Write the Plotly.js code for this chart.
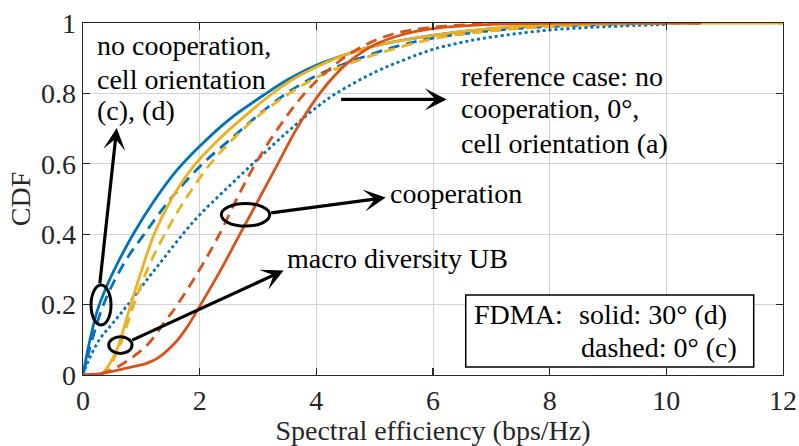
<!DOCTYPE html>
<html>
<head>
<meta charset="utf-8">
<script src="https://cdn.plot.ly/plotly-3.0.1.min.js"></script>
<style>
  html, body { margin: 0; padding: 0; background: #ffffff; }
  #chart { width: 799px; height: 446px; }
</style>
</head>
<body>
<div id="chart"></div>
<script>
// CDF of spectral efficiency (bps/Hz) for several cell / cooperation set-ups.

// No cooperation, 30° (d) — blue solid
const xBlueSolid = [0, 0.05, 0.12, 0.24, 0.4, 0.6, 0.86, 1.2, 1.6, 2.0, 2.5, 3.14, 3.5, 4.0, 4.5, 5.0, 6.0, 7.0, 8.0, 9.0, 10.0];
const yBlueSolid = [0, 0.045, 0.1, 0.18, 0.25, 0.32, 0.4, 0.49, 0.58, 0.65, 0.725, 0.8, 0.838, 0.88, 0.91, 0.935, 0.965, 0.983, 0.993, 0.998, 1.0];

// No cooperation, 0° (c) — blue dashed
const xBlueDashed = [0, 0.1, 0.2, 0.34, 0.5, 0.75, 1.05, 1.5, 2.05, 2.6, 3.0, 3.49, 4.0, 4.5, 5.3, 6.0, 7.0, 8.0, 9.0, 10.0];
const yBlueDashed = [0, 0.065, 0.125, 0.195, 0.255, 0.33, 0.4, 0.5, 0.6, 0.68, 0.738, 0.8, 0.85, 0.885, 0.93, 0.957, 0.978, 0.99, 0.996, 1.0];

// Reference case: no cooperation, 0°, cell orientation (a) — blue dotted
const xReference = [0, 0.05, 0.28, 0.5, 0.77, 1.14, 1.4, 1.71, 2.0, 2.4, 2.91, 3.5, 4.0, 4.34, 5.0, 5.5, 6.0, 6.5, 7.0, 8.0, 9.0, 10.0];
const yReference = [0, 0.024, 0.1, 0.145, 0.2, 0.28, 0.335, 0.4, 0.455, 0.52, 0.6, 0.69, 0.76, 0.8, 0.86, 0.895, 0.925, 0.945, 0.96, 0.98, 0.99, 0.996];

// Macro diversity upper bound, 30° — yellow solid
const xMacroSolid = [0, 0.3, 0.45, 0.6, 0.72, 0.82, 1.0, 1.22, 1.5, 1.88, 2.3, 2.75, 3.25, 3.6, 4.0, 4.5, 5.0, 6.0, 7.0, 8.0, 9.0, 10.0, 12.0];
const yMacroSolid = [0, 0, 0.03, 0.08, 0.145, 0.2, 0.295, 0.4, 0.495, 0.59, 0.665, 0.732, 0.8, 0.84, 0.875, 0.91, 0.935, 0.965, 0.985, 0.995, 0.999, 1.0, 1.0];

// Macro diversity upper bound, 0° — yellow dashed
const xMacroDashed = [0, 0.3, 0.45, 0.6, 0.72, 0.85, 1.0, 1.2, 1.42, 1.7, 2.17, 2.6, 3.0, 3.51, 4.0, 4.5, 5.0, 6.0, 7.0, 8.0, 9.0, 10.0, 12.0];
const yMacroDashed = [0, 0, 0.025, 0.07, 0.125, 0.19, 0.258, 0.335, 0.405, 0.485, 0.597, 0.675, 0.735, 0.797, 0.845, 0.88, 0.91, 0.955, 0.978, 0.99, 0.997, 1.0, 1.0];

// Cooperation, 30° — orange solid
const xCoopSolid = [0, 0.3, 0.6, 0.9, 1.09, 1.3, 1.6, 1.8, 2.0, 2.35, 2.69, 3.0, 3.34, 3.7, 4.06, 4.3, 4.6, 5.0, 5.5, 6.0, 7.0, 8.0, 10.6];
const yCoopSolid = [0, 0.004, 0.014, 0.025, 0.033, 0.05, 0.095, 0.14, 0.195, 0.295, 0.4, 0.495, 0.6, 0.71, 0.8, 0.848, 0.895, 0.938, 0.968, 0.984, 0.996, 1.0, 1.0];

// Cooperation, 0° — orange dashed
const xCoopDashed = [0, 0.3, 0.5, 0.8, 1.1, 1.4, 1.62, 2.0, 2.34, 2.65, 2.94, 3.3, 3.8, 4.34, 4.75, 5.3, 6.0, 7.0, 8.0, 10.6];
const yCoopDashed = [0, 0.004, 0.015, 0.045, 0.085, 0.15, 0.2, 0.3, 0.4, 0.505, 0.595, 0.69, 0.8, 0.885, 0.93, 0.968, 0.988, 0.998, 1.0, 1.0];

const xTicks = [0, 2, 4, 6, 8, 10, 12];
const yTicks = [0, 0.2, 0.4, 0.6, 0.8, 1];

const BLUE = '#0072BD', ORANGE = '#D95319', YELLOW = '#EDB120';
const FONT = "'Liberation Serif', 'Times New Roman', serif";
const INK = '#262626';
const LW = 2.8;
const DASH = '11px,7px';
const DOT = '3px,3px';

function curve(x, y, color, dash) {
  return {
    x: x, y: y, type: 'scatter', mode: 'lines',
    line: { color: color, width: LW, dash: dash, shape: 'spline', smoothing: 1 },
    hoverinfo: 'skip', showlegend: false
  };
}

const traces = [
  curve(xBlueSolid, yBlueSolid, BLUE, 'solid'),
  curve(xBlueDashed, yBlueDashed, BLUE, DASH),
  curve(xReference, yReference, BLUE, DOT),
  curve(xMacroSolid, yMacroSolid, YELLOW, 'solid'),
  curve(xMacroDashed, yMacroDashed, YELLOW, DASH),
  curve(xCoopSolid, yCoopSolid, ORANGE, 'solid'),
  curve(xCoopDashed, yCoopDashed, ORANGE, DASH)
];

function label(text, x, y) {
  return { text: text, x: x, y: y, xref: 'x', yref: 'y', xanchor: 'left', yanchor: 'middle',
           showarrow: false, font: { family: FONT, size: 28, color: '#000' } };
}
function arrow(tailX, tailY, headX, headY) {
  return { text: '', x: headX, y: headY, ax: tailX, ay: tailY, xref: 'x', yref: 'y',
           axref: 'x', ayref: 'y', showarrow: true, arrowhead: 3, arrowsize: 1.15,
           arrowwidth: 3.2, arrowcolor: '#000', standoff: 0, startstandoff: 0 };
}
function ring(cx, cy, rx, ry) {
  return { type: 'circle', xref: 'x', yref: 'y', x0: cx - rx, x1: cx + rx, y0: cy - ry, y1: cy + ry,
           line: { color: '#000', width: 3 }, layer: 'above' };
}

const annotations = [
  label('no cooperation,', 0.2, 0.935),
  label('cell orientation', 0.2, 0.839),
  label('(c), (d)', 0.2, 0.752),
  label('reference case: no', 6.44, 0.849),
  label('cooperation, 0°,', 6.44, 0.756),
  label('cell orientation (a)', 6.44, 0.659),
  label('cooperation', 5.22, 0.517),
  label('macro diversity UB', 3.457, 0.33),
  label('FDMA:', 6.66, 0.173),
  label('solid: 30° (d)', 8.46, 0.173),
  label('dashed: 0° (c)', 8.5, 0.0795),
  arrow(0.286, 0.256, 0.578, 0.702),
  arrow(0.818, 0.097, 3.44, 0.297),
  arrow(3.2, 0.46, 5.19, 0.504),
  arrow(4.4, 0.783, 6.235, 0.783)
];

const shapes = [
  ring(0.309, 0.199, 0.171, 0.0568),
  ring(0.641, 0.085, 0.2, 0.0237),
  ring(2.786, 0.455, 0.415, 0.032),
  { type: 'rect', xref: 'x', yref: 'y', x0: 6.561, x1: 11.498, y0: 0.0227, y1: 0.227,
    fillcolor: '#ffffff', line: { color: '#000', width: 1.5 }, layer: 'above' }
];

function axis(range, ticks, titleText, standoff) {
  return {
    range: range, tickvals: ticks, ticks: 'inside', ticklen: 7, tickwidth: 1.3, tickcolor: INK,
    showline: true, linecolor: INK, linewidth: 1.3, mirror: 'ticks',
    showgrid: true, gridcolor: '#d2d2d2', gridwidth: 1, zeroline: false,
    tickfont: { family: FONT, size: 28, color: INK },
    title: { text: titleText, standoff: standoff, font: { family: FONT, size: 28, color: INK } },
    fixedrange: true
  };
}

const layout = {
  width: 799, height: 446,
  margin: { l: 83, r: 16, t: 23, b: 71 },
  paper_bgcolor: '#ffffff', plot_bgcolor: '#ffffff',
  xaxis: axis([0, 12], xTicks, 'Spectral efficiency (bps/Hz)', 4),
  yaxis: axis([0, 1], yTicks, 'CDF', 2),
  annotations: annotations,
  shapes: shapes,
  showlegend: false
};

Plotly.newPlot('chart', traces, layout, { displayModeBar: false, staticPlot: true });
</script>
</body>
</html>
